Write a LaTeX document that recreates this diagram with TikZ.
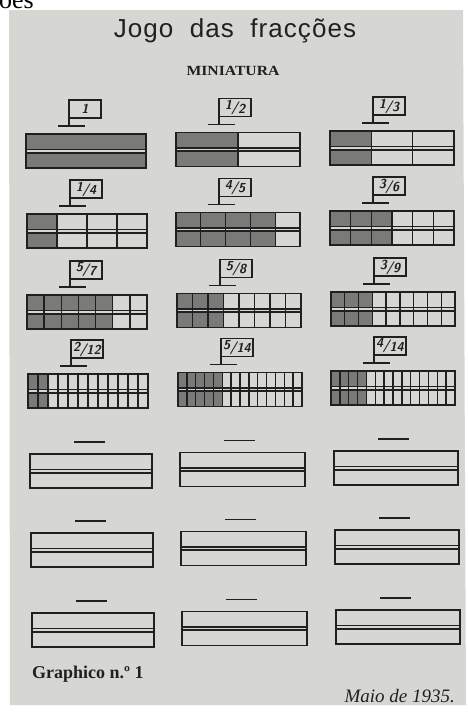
\documentclass[tikz,border=0pt]{standalone}
\usepackage{fontspec}
\newfontfamily\titlefont{Liberation Sans}
\newfontfamily\printfont{Liberation Serif}
\definecolor{paper}{RGB}{214,214,211}
\definecolor{ink}{RGB}{32,32,32}
\definecolor{cellshade}{RGB}{122,122,120}
\tikzset{
  barline/.style={draw=ink, line width=1.35pt},
  flagline/.style={draw=ink, line width=1.2pt},
  fraclabel/.style={font=\sffamily\itshape\bfseries\fontsize{13}{13}\selectfont, text=ink, inner sep=0pt}
}
% bar: left x, top y, width, parts, shaded parts
\newcommand{\fracbar}[5]{%
  \pgfmathsetmacro{\cellw}{#3/#4}
  \ifnum#5>0
    \fill[cellshade] (#1,#2) rectangle ++(#5*\cellw,15.5);
    \fill[cellshade] (#1,#2+18.5) rectangle ++(#5*\cellw,15.5);
  \fi
  \ifnum#4>1
    \foreach \i in {2,...,#4} \draw[barline] ({#1+(\i-1)*\cellw},#2) -- ++(0,34);
  \fi
  \draw[barline] (#1,#2) rectangle ++(#3,34);
  \draw[barline, line width=1.6pt] (#1,#2+15.3) -- ++(#3,0) (#1,#2+18.7) -- ++(#3,0);
}
% flag: node name, bar left x, bar top y, label
\newcommand{\fracflag}[4]{%
  \draw[flagline] (#2+43,#3-8) -- (#2+43,#3-34) rectangle ++(32,18);
  \draw[flagline] (#2+32,#3-8) -- ++(27,0);
  \node[fraclabel] (#1) at (#2+59,#3-25) {#4};
}
\newcommand{\frc}[2]{\raisebox{2pt}{#1}\kern-0.5pt/\kern-0.5pt\raisebox{-1.5pt}{#2}}
% empty slot: bar left x, bar top y
\newcommand{\blankmark}[2]{\draw[flagline] (#1+44,#2-12) -- ++(31,0);}

\begin{document}
\begin{tikzpicture}[x=1pt, y=-1pt]
  \useasboundingbox (0,0) rectangle (468,713);
  \fill[white] (0,0) rectangle (468,713);
  \node[anchor=base west, inner sep=0pt, font=\printfont\fontsize{26}{26}\selectfont] (prev) at (-1,8) {ões};
  \fill[paper] (9,10) -- (463,10) -- (466,705) -- (10,705) -- cycle;

  % heading
  \node[anchor=base, inner sep=0pt, text=ink] (title) at (235,37)
    {\titlefont\fontsize{26}{26}\selectfont\addfontfeature{LetterSpace=4}Jogo\ \ das\ \ fracções};
  \node[anchor=base, inner sep=0pt, text=ink] (subtitle) at (233,75)
    {\printfont\bfseries\fontsize{14}{14}\selectfont\scalebox{1.12}[1]{MINIATURA}};

  % row 1
  \fracbar{26}{134}{120}{1}{1}     \fracflag{f1}{26}{134}{1}
  \fracbar{176}{132.5}{124}{2}{1}  \fracflag{f2}{176}{132.5}{\frc{1}{2}}
  \fracbar{330}{131}{124}{3}{1}    \fracflag{f3}{330}{131}{\frc{1}{3}}
  % row 2
  \fracbar{27}{214}{120}{4}{1}     \fracflag{f4}{27}{214}{\frc{1}{4}}
  \fracbar{176}{212.5}{124}{5}{4}  \fracflag{f5}{176}{212.5}{\frc{4}{5}}
  \fracbar{330}{211}{124}{6}{3}    \fracflag{f6}{330}{211}{\frc{3}{6}}
  % row 3
  \fracbar{27}{295}{120}{7}{5}     \fracflag{f7}{27}{295}{\frc{5}{7}}
  \fracbar{177}{293.5}{124}{8}{3}  \fracflag{f8}{177}{293.5}{\frc{5}{8}}
  \fracbar{331}{292}{124}{9}{3}    \fracflag{f9}{331}{292}{\frc{3}{9}}
  % row 4
  \fracbar{28}{374}{120}{12}{2}    \fracflag{f12}{28}{374}{\frc{2}{12}}
  \fracbar{178}{372.5}{124}{14}{5} \fracflag{f14a}{178}{372.5}{\frc{5}{14}}
  \fracbar{331}{371}{124}{14}{4}   \fracflag{f14b}{331}{371}{\frc{4}{14}}
  % empty rows
  \fracbar{30}{454}{122}{1}{0}     \blankmark{30}{454}
  \fracbar{180}{452.5}{125}{1}{0}  \blankmark{180}{452.5}
  \fracbar{334}{451}{124}{1}{0}    \blankmark{334}{451}
  \fracbar{31}{533}{122}{1}{0}     \blankmark{31}{533}
  \fracbar{181}{531.5}{125}{1}{0}  \blankmark{181}{531.5}
  \fracbar{335}{530}{124}{1}{0}    \blankmark{335}{530}
  \fracbar{32}{613}{122}{1}{0}     \blankmark{32}{613}
  \fracbar{182}{611.5}{125}{1}{0}  \blankmark{182}{611.5}
  \fracbar{336}{610}{124}{1}{0}    \blankmark{336}{610}

  % footer
  \node[anchor=base west, inner sep=0pt, text=ink] (graph) at (32,678)
    {\printfont\bfseries\fontsize{18}{18}\selectfont Graphico n.º 1};
  \node[anchor=base east, inner sep=0pt, text=ink] (date) at (455,702)
    {\printfont\itshape\fontsize{19}{19}\selectfont Maio de 1935.};
\end{tikzpicture}
\end{document}
